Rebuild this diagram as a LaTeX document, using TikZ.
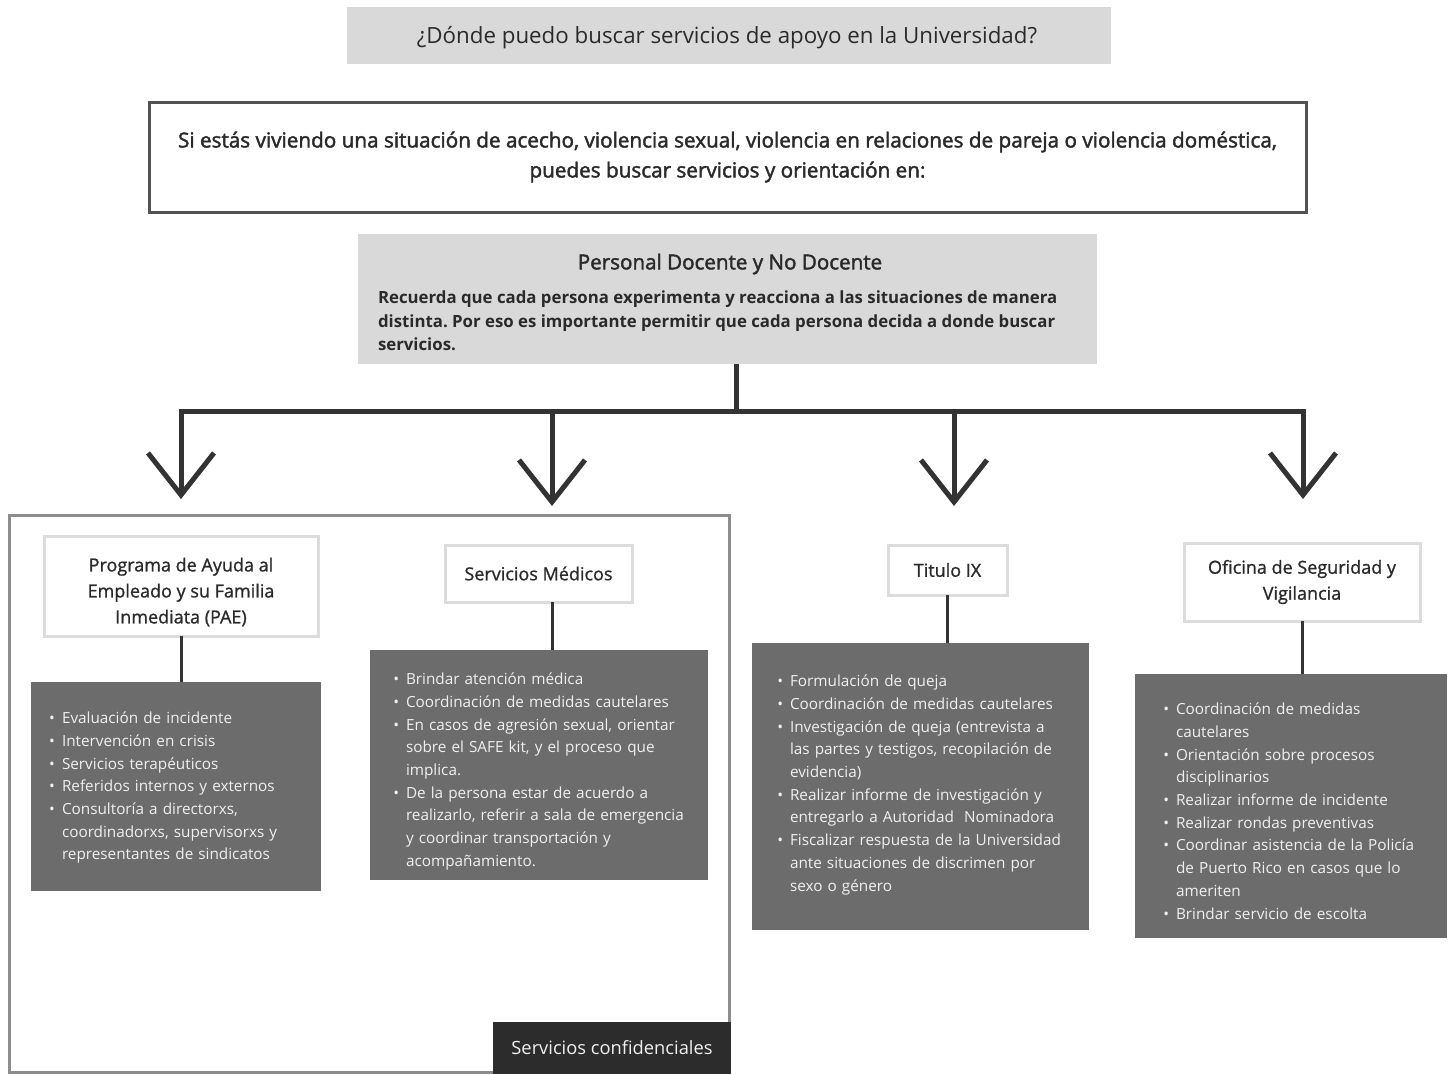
\documentclass[tikz,border=0pt]{standalone}
\usepackage{fontspec}
\setmainfont{Open Sans}
\newfontfamily\medfont[FakeBold=2]{Open Sans}
\newfontfamily\lightmed[FakeBold=1]{Open Sans}
\frenchspacing
\usetikzlibrary{arrows.meta}
\definecolor{lightbox}{HTML}{D9D9D9}
\definecolor{midbox}{HTML}{6C6C6C}
\definecolor{darkline}{HTML}{333333}
\definecolor{txtdark}{HTML}{2A2A2A}
\definecolor{txtlight}{HTML}{F0F0F0}
\definecolor{hdrborder}{HTML}{DCDCDC}
\definecolor{frameborder}{HTML}{8C8C8C}
\definecolor{labelbox}{HTML}{2C2C2C}
\newenvironment{bullist}{\begin{list}{\textbullet}{\setlength{\leftmargin}{16pt}\setlength{\labelsep}{7pt}\setlength{\labelwidth}{9pt}\setlength{\itemsep}{0pt}\setlength{\parsep}{0pt}\setlength{\topsep}{0pt}\setlength{\partopsep}{0pt}\setlength{\itemindent}{0pt}}}{\end{list}}
\tikzset{
  plain/.style={rectangle, inner sep=0pt, outer sep=0pt},
  graybox/.style={plain, fill=lightbox},
  hdrbox/.style={plain, fill=white, draw=hdrborder, line width=3pt, align=center, text=txtdark, font=\fontsize{18}{26}\lightmed},
  hdrtext/.style={plain, align=center, text=txtdark, font=\fontsize{18}{26}\lightmed},
  listbox/.style={plain, fill=midbox},
  listtext/.style={plain, text width=420pt, align=left, text=txtlight, font=\fontsize{15.3}{22.7}\selectfont},
  conn/.style={draw=darkline, line width=3pt},
  bigarrow/.style={draw=darkline, line width=5pt, line join=miter},
  barb/.tip={Straight Barb[length=42pt, width=66pt, line width=5pt]},
}
\begin{document}
\begin{tikzpicture}[x=1pt, y=-1pt]
\useasboundingbox (0,0) rectangle (1455,1074);
\fill[white] (0,0) rectangle (1455,1074);

% title
\node[graybox, minimum width=764pt, minimum height=57pt] (title) at (729,35.5) {};
\node[plain, text=txtdark, font=\fontsize{22.3}{26}\selectfont] (titletext) at (727,38) {¿Dónde puedo buscar servicios de apoyo en la Universidad?};

% intro box
\node[plain, minimum width=1157pt, minimum height=110pt, draw=darkline!85, line width=3pt, fill=white, align=center, text=txtdark, font=\fontsize{20.7}{30}\medfont] (intro) at (727.5,157) {Si estás viviendo una situación de acecho, violencia sexual, violencia en relaciones de pareja o violencia doméstica,\\ puedes buscar servicios y orientación en:};

% personal box
\node[graybox, minimum width=739pt, minimum height=130pt] (personal) at (727.5,299) {};
\node[plain, text=txtdark, font=\fontsize{20.6}{24}\medfont] (personalhead) at (730,264) {Personal Docente y No Docente};
\node[plain, anchor=north west, align=left, text=txtdark, font=\fontsize{16.8}{23.5}\selectfont\bfseries] (personaltext) at (378,291) {Recuerda que cada persona experimenta y reacciona a las situaciones de manera\\ distinta. Por eso es importante permitir que cada persona decida a donde buscar\\ servicios.};

% connectors
\coordinate (bM) at (736,411);
\coordinate (b1) at (181,411);
\coordinate (b2) at (552,411);
\coordinate (b3) at (954,411);
\coordinate (b4) at (1303,411);
\coordinate (t1) at (181,499);
\coordinate (t2) at (552,506);
\coordinate (t3) at (954,506);
\coordinate (t4) at (1303,499);
\draw[bigarrow] (personal.south -| bM) -- (bM);
\draw[bigarrow, {barb}-{barb}] (t1) -- (b1) -- (b4) -- (t4);
\draw[bigarrow, -{barb}] (b2) -- (t2);
\draw[bigarrow, -{barb}] (b3) -- (t3);

% confidential frame
\node[plain, minimum width=720pt, minimum height=557pt, draw=frameborder, line width=3pt] (conf) at (369,793.5) {};
\node[plain, minimum width=238pt, minimum height=52pt, fill=labelbox, text=txtlight, font=\fontsize{18.3}{20}\selectfont] (conflabel) at (612,1048) {Servicios confidenciales};

% PAE
\node[hdrbox, minimum width=274pt, minimum height=100pt] (pae) at (181,586) {};
\node[hdrtext] (paetext) at (181,592) {Programa de Ayuda al\\ Empleado y su Familia\\ Inmediata (PAE)};
\node[listbox, minimum width=290pt, minimum height=209pt] (paebox) at (176,786.5) {};
\draw[conn] (pae.south) -- (pae.south |- paebox.north);
\node[listtext, anchor=north west] (paelist) at (46,701) {\begin{bullist}
\item Evaluación de incidente
\item Intervención en crisis
\item Servicios terapéuticos
\item Referidos internos y externos
\item Consultoría a directorxs,\\ coordinadorxs, supervisorxs y\\ representantes de sindicatos
\end{bullist}};

% Servicios Medicos
\node[hdrbox, minimum width=187pt, minimum height=57pt] (med) at (538.5,573.5) {Servicios Médicos};
\node[listbox, minimum width=338pt, minimum height=230pt] (medbox) at (539,765) {};
\draw[conn] (med.south -| b2) -- (medbox.north -| b2);
\node[listtext, anchor=north west] (medlist) at (390,662) {\begin{bullist}
\item Brindar atención médica
\item Coordinación de medidas cautelares
\item En casos de agresión sexual, orientar\\ sobre el SAFE kit, y el proceso que\\ implica.
\item De la persona estar de acuerdo a\\ realizarlo, referir a sala de emergencia\\ y coordinar transportación y\\ acompañamiento.
\end{bullist}};

% Titulo IX
\node[hdrbox, minimum width=119pt, minimum height=50pt] (tix) at (947.5,570) {Titulo IX};
\node[listbox, minimum width=337pt, minimum height=287pt] (tixbox) at (920.5,786.5) {};
\draw[conn] (tix.south) -- (tix.south |- tixbox.north);
\node[listtext, anchor=north west] (tixlist) at (774,664) {\begin{bullist}
\item Formulación de queja
\item Coordinación de medidas cautelares
\item Investigación de queja (entrevista a\\ las partes y testigos, recopilación de\\ evidencia)
\item Realizar informe de investigación y\\ entregarlo a Autoridad\ \ Nominadora
\item Fiscalizar respuesta de la Universidad\\ ante situaciones de discrimen por\\ sexo o género
\end{bullist}};

% Oficina de Seguridad
\node[hdrbox, minimum width=236pt, minimum height=78pt] (osv) at (1302,582) {Oficina de Seguridad y\\ Vigilancia};
\node[listbox, minimum width=312pt, minimum height=264pt] (osvbox) at (1291,806) {};
\draw[conn] (osv.south) -- (osv.south |- osvbox.north);
\node[listtext, anchor=north west] (osvlist) at (1160,692) {\begin{bullist}
\item Coordinación de medidas\\ cautelares
\item Orientación sobre procesos\\ disciplinarios
\item Realizar informe de incidente
\item Realizar rondas preventivas
\item Coordinar asistencia de la Policía\\ de Puerto Rico en casos que lo\\ ameriten
\item Brindar servicio de escolta
\end{bullist}};
\end{tikzpicture}
\end{document}
